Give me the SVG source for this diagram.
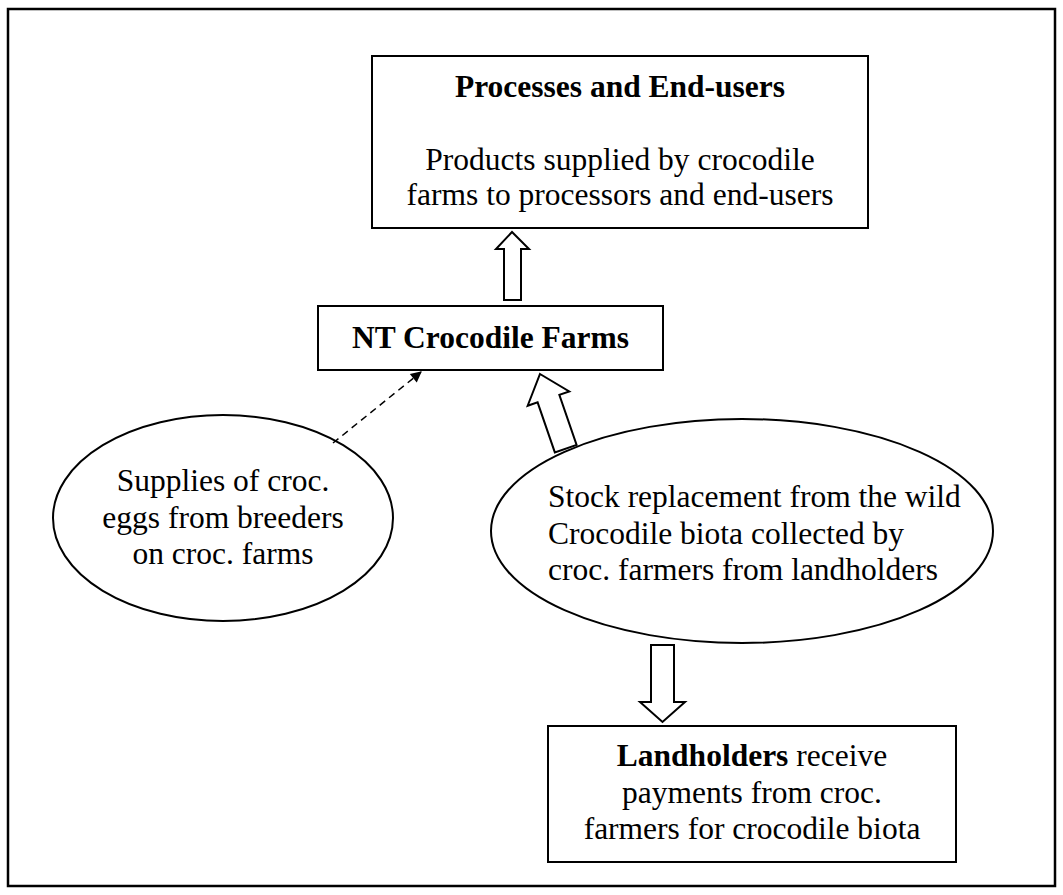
<svg xmlns="http://www.w3.org/2000/svg" width="1063" height="895" viewBox="0 0 1063 895">
<defs>
<style>
.box{fill:#fff;stroke:#000;stroke-width:2}
.ell{fill:#fff;stroke:#000;stroke-width:2}
.blk{fill:#fff;stroke:#000;stroke-width:2;stroke-linejoin:miter}
text{font-family:"Liberation Serif","Times New Roman",serif;font-size:31.5px;fill:#000}
.b{font-weight:bold}
.c{text-anchor:middle}
</style>
<marker id="ah" viewBox="0 0 10 10" refX="9" refY="5" markerWidth="14" markerHeight="11" orient="auto" markerUnits="userSpaceOnUse">
<path d="M0,0 L10,5 L0,10 z" fill="#000"/>
</marker>
</defs>
<rect width="1063" height="895" fill="#fff"/>
<rect x="8" y="9" width="1047" height="877" fill="none" stroke="#000" stroke-width="2.5"/>

<g id="processes">
<rect class="box" x="372" y="56" width="496" height="172"/>
<text class="c b" x="620" y="97">Processes and End-users</text>
<text class="c" x="620" y="170">Products supplied by crocodile</text>
<text class="c" x="620" y="205">farms to processors and end-users</text>
</g>

<g id="farms">
<rect class="box" x="318" y="306" width="345" height="64"/>
<text class="c b" x="490.5" y="348">NT Crocodile Farms</text>
</g>

<g id="eggs">
<ellipse class="ell" cx="223" cy="518" rx="170" ry="103"/>
<text class="c" x="223" y="491">Supplies of croc.</text>
<text class="c" x="223" y="527.5">eggs from breeders</text>
<text class="c" x="223" y="564">on croc. farms</text>
</g>

<g id="wild">
<ellipse class="ell" cx="742" cy="531" rx="251" ry="112"/>
<text x="548" y="507">Stock replacement from the wild</text>
<text x="548" y="543.5">Crocodile biota collected by</text>
<text x="548" y="580">croc. farmers from landholders</text>
</g>

<g id="landholders">
<rect class="box" x="548" y="726" width="408" height="136"/>
<text class="c" x="752" y="766"><tspan class="b">Landholders</tspan> receive</text>
<text class="c" x="752" y="802.5">payments from croc.</text>
<text class="c" x="752" y="839">farmers for crocodile biota</text>
</g>

<g id="connectors">
<polygon class="blk" points="504,300 504,249 496,249 512,232 529,249 521,249 521,300"/>
<line x1="333" y1="443" x2="421" y2="372" stroke="#000" stroke-width="1.5" stroke-dasharray="7,5" marker-end="url(#ah)"/>
<polygon class="blk" transform="translate(540,374) rotate(-19)" points="0,0 22,26 11.5,26 11.5,79 -11.5,79 -11.5,26 -22,26"/>
<polygon class="blk" points="651,645 674,645 674,702 685,702 662.5,722 640,702 651,702"/>
</g>
</svg>
